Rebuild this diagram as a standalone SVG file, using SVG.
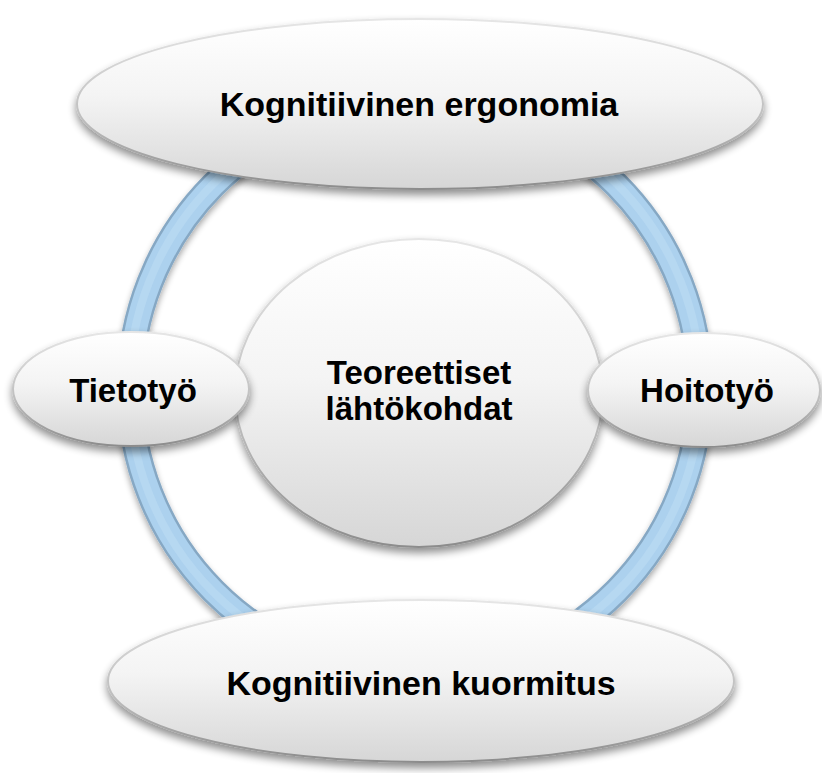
<svg xmlns="http://www.w3.org/2000/svg" width="822" height="773" viewBox="0 0 822 773">
  <defs>
    <linearGradient id="gFill" x1="0" y1="0" x2="0" y2="1">
      <stop offset="0" stop-color="#ffffff"/>
      <stop offset="0.45" stop-color="#f4f4f4"/>
      <stop offset="1" stop-color="#d6d6d6"/>
    </linearGradient>
    <linearGradient id="gEdge" x1="0" y1="0" x2="0" y2="1">
      <stop offset="0" stop-color="#e6e6e6"/>
      <stop offset="0.6" stop-color="#bdbdbd"/>
      <stop offset="1" stop-color="#8c8c8c"/>
    </linearGradient>
    <filter id="shadow" x="-20%" y="-20%" width="140%" height="150%">
      <feGaussianBlur in="SourceAlpha" stdDeviation="4"/>
      <feOffset dx="0" dy="5" result="b"/>
      <feComponentTransfer><feFuncA type="linear" slope="0.45"/></feComponentTransfer>
      <feMerge><feMergeNode/><feMergeNode in="SourceGraphic"/></feMerge>
    </filter>
    <filter id="ringShadow" x="-20%" y="-20%" width="140%" height="140%">
      <feGaussianBlur in="SourceAlpha" stdDeviation="3"/>
      <feOffset dx="0" dy="4" result="b"/>
      <feComponentTransfer><feFuncA type="linear" slope="0.35"/></feComponentTransfer>
      <feMerge><feMergeNode/><feMergeNode in="SourceGraphic"/></feMerge>
    </filter>
  </defs>
  <style>
    .node { fill: url(#gFill); stroke: url(#gEdge); stroke-width: 2; filter: url(#shadow); }
    .lbl { font-family: "Liberation Sans", Arial, sans-serif; font-weight: bold; fill: #000000; text-anchor: middle; }
    .ringOuter { fill: none; stroke: #86a8c4; stroke-width: 27; }
    .ringInner { fill: none; stroke: #acd1ee; stroke-width: 22; }
    .ringHi { fill: none; stroke: #bddcf4; stroke-width: 8; opacity: 0.6; }
  </style>

  <g id="connectors" filter="url(#ringShadow)">
    <ellipse class="ringOuter" cx="415" cy="388" rx="285" ry="287"/>
    <ellipse class="ringInner" cx="415" cy="388" rx="285" ry="287"/>
    <ellipse class="ringHi" cx="415" cy="388" rx="286" ry="288"/>
  </g>

  <g id="node-teoreettiset">
    <ellipse class="node" cx="419" cy="393" rx="184" ry="154"/>
    <text class="lbl" font-size="33" x="419" y="384">Teoreettiset</text>
    <text class="lbl" font-size="33" x="419" y="420">lähtökohdat</text>
  </g>

  <g id="node-tietotyo">
    <ellipse class="node" cx="131" cy="389" rx="118" ry="57"/>
    <text class="lbl" font-size="33" x="133" y="402">Tietotyö</text>
  </g>

  <g id="node-hoitotyo">
    <ellipse class="node" cx="704" cy="390" rx="116" ry="57"/>
    <text class="lbl" font-size="33" x="707" y="402">Hoitotyö</text>
  </g>

  <g id="node-ergonomia">
    <ellipse class="node" cx="420" cy="104" rx="343" ry="85"/>
    <text class="lbl" font-size="34" x="419" y="116">Kognitiivinen ergonomia</text>
  </g>

  <g id="node-kuormitus">
    <ellipse class="node" cx="421" cy="681" rx="313" ry="81"/>
    <text class="lbl" font-size="34" x="421" y="695">Kognitiivinen kuormitus</text>
  </g>
</svg>
